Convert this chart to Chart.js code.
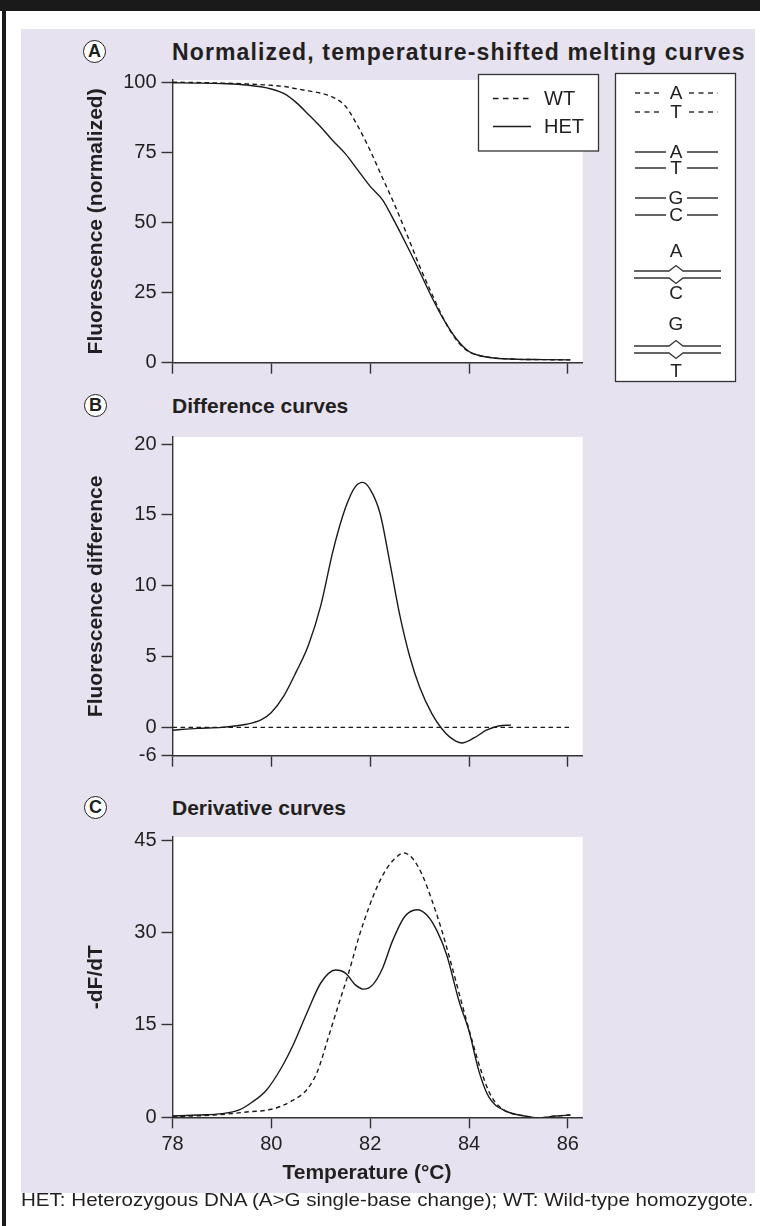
<!DOCTYPE html>
<html>
<head>
<meta charset="utf-8">
<script src="https://cdn.jsdelivr.net/npm/chart.js@4.4.1/dist/chart.umd.min.js"></script>
<style>
html, body { margin: 0; padding: 0; background: #fff; }
body { width: 760px; height: 1226px; position: relative; overflow: hidden;
       font-family: 'Liberation Sans', Arial, Helvetica, sans-serif; color: #231f20; }
#topbar { position: absolute; left: 0; top: 0; width: 760px; height: 11px; background: #1a1a1a; }
#rule { position: absolute; left: 2px; top: 0; width: 4px; height: 1226px; background: #1a1a1a; }
#panel { position: absolute; left: 21px; top: 29px; width: 734px; height: 1164px; background: #e7e2ef; }
.plot { position: absolute; left: 21px; }
.badge { position: absolute; width: 21px; height: 21px; border: 1.6px solid #231f20; border-radius: 50%;
         background: #fff; font-weight: bold; font-size: 18px; line-height: 21px; text-align: center; }
.ptitle { position: absolute; left: 172px; font-weight: bold; font-size: 21px; line-height: 24px; white-space: nowrap; }
#titleA { font-size: 23px; }
#xtitle { position: absolute; left: 0; width: 734px; top: 1160px; text-align: center;
          font-weight: bold; font-size: 21px; line-height: 24px; }
#caption { position: absolute; left: 21px; top: 1189px; font-size: 19px; line-height: 22px;
           white-space: nowrap; transform-origin: 0 50%; }
</style>
</head>
<body>
<div id="topbar"></div>
<div id="rule"></div>
<div id="panel"></div>

<div class="badge" style="left:83px;top:40px">A</div>
<div class="ptitle" id="titleA" style="top:40px">Normalized, temperature-shifted melting curves</div>
<div class="plot" style="top:60px"><canvas id="chartA" width="734" height="330"></canvas></div>

<div class="badge" style="left:84px;top:394px">B</div>
<div class="ptitle" style="top:394px">Difference curves</div>
<div class="plot" style="top:420px"><canvas id="chartB" width="734" height="360"></canvas></div>

<div class="badge" style="left:84px;top:796px">C</div>
<div class="ptitle" style="top:796px">Derivative curves</div>
<div class="plot" style="top:820px"><canvas id="chartC" width="734" height="373"></canvas></div>

<div id="xtitle">Temperature (°C)</div>
<div id="caption">HET: Heterozygous DNA (A&gt;G single-base change); WT: Wild-type homozygote.</div>

<script>
// x axis (temperature, °C)
const xTicks = [78, 80, 82, 84, 86];

// A: normalized melting curves
const meltTemp = [78, 78.5, 79, 79.5, 80, 80.25, 80.5, 80.75, 81, 81.25, 81.5, 81.75, 82, 82.25, 82.5, 82.75, 83, 83.25, 83.5, 83.75, 84, 84.25, 84.5, 85, 85.5, 86.05];
const meltWT   = [100.2, 100.1, 99.9, 99.6, 99.1, 98.7, 97.9, 97.1, 96.3, 94.8, 91.6, 84.5, 75.8, 66, 56.2, 45.5, 34.5, 24.5, 15.2, 8, 3.9, 2.4, 1.7, 1.2, 1.1, 1.0];
const meltHET  = [100, 99.9, 99.7, 99.2, 97.8, 96.2, 93, 88.7, 84.2, 79.2, 74.6, 68.8, 63.0, 58.2, 50.2, 41.6, 32.6, 23.3, 15.0, 8.4, 4, 2.4, 1.7, 1.2, 1.1, 1.0];
const meltTicks = [0, 25, 50, 75, 100];
const meltTickLabels = ['0', '25', '50', '75', '100'];

// B: difference curves (WT is the zero baseline)
const diffTemp = [78, 78.5, 79, 79.5, 79.8, 80, 80.25, 80.5, 80.75, 81, 81.25, 81.5, 81.7, 81.85, 82, 82.2, 82.4, 82.6, 82.8, 83, 83.25, 83.45, 83.6, 83.85, 84.1, 84.35, 84.6, 84.85];
const diffHET  = [-0.2, -0.07, 0, 0.22, 0.55, 1.05, 2.2, 3.9, 5.8, 8.6, 12.5, 15.5, 17.0, 17.3, 16.8, 15.1, 11.6, 7.9, 5.0, 2.85, 0.95, -0.1, -0.65, -1.1, -0.75, -0.2, 0.1, 0.16];
const diffWTTemp = [78, 86.05];
const diffWT   = [0, 0];
const diffTicks = [-2, 0, 5, 10, 15, 20];
const diffTickLabels = ['-6', '0', '5', '10', '15', '20'];

// C: derivative curves
const derivTemp = [78, 78.5, 79, 79.35, 79.6, 79.9, 80.2, 80.45, 80.75, 81, 81.3, 81.5, 81.7, 81.87, 82.05, 82.25, 82.45, 82.7, 82.95, 83.15, 83.35, 83.55, 83.8, 84.0, 84.2, 84.4, 84.75, 85.1, 85.4, 85.75, 86.05];
const derivHET  = [0.2, 0.37, 0.6, 1.2, 2.4, 4.4, 8.0, 11.9, 17.5, 21.8, 23.9, 23.4, 21.5, 20.8, 21.5, 24.2, 28.6, 32.6, 33.7, 32.8, 30.3, 26.3, 18.8, 14.0, 7.5, 3.3, 1.0, 0.25, -0.1, 0.2, 0.37];
const derivWTTemp = [78, 78.85, 79.55, 80.0, 80.4, 80.73, 80.94, 81.15, 81.36, 81.57, 81.78, 81.98, 82.15, 82.32, 82.5, 82.68, 82.86, 83.05, 83.25, 83.45, 83.65, 83.85, 84.05, 84.25, 84.45, 84.7, 85.1, 85.4, 85.75, 86.05];
const derivWT   = [0.1, 0.37, 0.9, 1.3, 2.6, 4.6, 7.6, 12.9, 18.3, 23.6, 29.5, 34.2, 37.6, 40.2, 42.0, 42.9, 42.0, 39.4, 35.2, 30.3, 24.6, 18.6, 12.8, 7.4, 3.4, 1.2, 0.25, -0.1, 0.2, 0.37];
const derivTicks = [0, 15, 30, 45];
const derivTickLabels = ['0', '15', '30', '45'];

const INK = '#231f20';
const FONT = "'Liberation Sans', Arial, Helvetica, sans-serif";
Chart.defaults.font.family = FONT;
Chart.defaults.color = INK;

function pts(xs, ys) {
    return xs.map((x, i) => ({ x: x, y: ys[i] }));
}

function line(label, xs, ys, dashed) {
    return {
        label: label,
        data: pts(xs, ys),
        borderColor: '#1a1a1a',
        borderWidth: 1.4,
        borderDash: dashed ? [4.5, 3.5] : [],
        pointRadius: 0,
        cubicInterpolationMode: 'monotone',
        fill: false
    };
}

// white plotting field
const plotBg = {
    id: 'plotBg',
    beforeDraw(chart) {
        const a = chart.chartArea;
        chart.ctx.save();
        chart.ctx.fillStyle = '#fff';
        chart.ctx.fillRect(a.left, a.top, a.right - a.left, a.bottom - a.top);
        chart.ctx.restore();
    }
};

// the two boxed keys of panel A
const keyBoxes = {
    id: 'keyBoxes',
    afterDraw(chart) {
        const ctx = chart.ctx;
        ctx.save();
        ctx.strokeStyle = '#333';
        ctx.fillStyle = '#fff';
        ctx.lineWidth = 1.3;

        // WT / HET legend
        ctx.fillRect(457.5, 14.5, 120, 76.5);
        ctx.strokeRect(457.5, 14.5, 120, 76.5);
        ctx.strokeStyle = '#1a1a1a';
        ctx.setLineDash([5.5, 4.5]);
        ctx.beginPath(); ctx.moveTo(472, 38.5); ctx.lineTo(511, 38.5); ctx.stroke();
        ctx.setLineDash([]);
        ctx.beginPath(); ctx.moveTo(472, 66.5); ctx.lineTo(510, 66.5); ctx.stroke();
        ctx.fillStyle = INK;
        ctx.font = '20px ' + FONT;
        ctx.textAlign = 'left';
        ctx.textBaseline = 'middle';
        ctx.fillText('WT', 523, 39);
        ctx.fillText('HET', 523, 67);

        // base-pair key
        ctx.fillStyle = '#fff';
        ctx.strokeStyle = '#333';
        ctx.fillRect(594.5, 13.5, 120, 308);
        ctx.strokeRect(594.5, 13.5, 120, 308);

        ctx.fillStyle = INK;
        ctx.font = '19px ' + FONT;
        ctx.textAlign = 'center';
        const cx = 655;
        const seg = (y, dashed) => {
            ctx.setLineDash(dashed ? [5, 4.5] : []);
            ctx.beginPath();
            ctx.moveTo(614, y); ctx.lineTo(dashed ? 642 : 645, y);
            ctx.moveTo(dashed ? 668 : 666, y); ctx.lineTo(697, y);
            ctx.stroke();
            ctx.setLineDash([]);
        };
        const pair = (top, bot, yTop, yBot) => {
            ctx.fillText(top, cx, yTop + 1);
            ctx.fillText(bot, cx, yBot + 1);
        };
        seg(33, true); seg(52, true); pair('A', 'T', 33, 52);
        seg(92, false); seg(108, false); pair('A', 'T', 92, 108);
        seg(138, false); seg(155, false); pair('G', 'C', 138, 155);

        const bubble = (y1, y2) => {
            ctx.beginPath();
            ctx.moveTo(613, y1); ctx.lineTo(648, y1); ctx.lineTo(655, y1 - 5.5); ctx.lineTo(662, y1); ctx.lineTo(700, y1);
            ctx.moveTo(613, y2); ctx.lineTo(648, y2); ctx.lineTo(655, y2 + 5.5); ctx.lineTo(662, y2); ctx.lineTo(700, y2);
            ctx.stroke();
        };
        ctx.fillText('A', cx, 192);
        bubble(211, 218);
        ctx.fillText('C', cx, 234);
        ctx.fillText('G', cx, 265);
        bubble(286, 293);
        ctx.fillText('T', cx, 312);
        ctx.restore();
    }
};

function makeScales(o) {
    return {
        x: {
            type: 'linear',
            min: 78,
            max: 86.3,
            afterBuildTicks: s => { s.ticks = xTicks.map(v => ({ value: v })); },
            afterFit: s => { s.height = o.xHeight; },
            ticks: {
                display: o.xLabels,
                padding: 4,
                autoSkip: false,
                maxRotation: 0,
                font: { size: 20 },
                color: INK
            },
            grid: { drawOnChartArea: false, tickLength: 11, tickColor: '#333', tickWidth: 1.4 },
            border: { color: '#333', width: 1.4 }
        },
        y: {
            type: 'linear',
            min: o.yMin,
            max: o.yMax,
            afterBuildTicks: s => { s.ticks = o.yTicks.map(v => ({ value: v })); },
            afterFit: s => { s.width = 151.5; },
            ticks: {
                padding: 5,
                font: { size: 20 },
                color: INK,
                callback: (v, i) => o.yLabels[i]
            },
            grid: { drawOnChartArea: false, tickLength: 11, tickColor: '#333', tickWidth: 1.4 },
            border: { color: '#333', width: 1.4 },
            title: {
                display: true,
                text: o.yTitle,
                font: { size: 21, weight: 'bold' },
                color: INK,
                padding: { top: 62.4, bottom: 0 }
            }
        }
    };
}

function makeChart(id, datasets, o, extraPlugins) {
    return new Chart(document.getElementById(id), {
        type: 'line',
        data: { datasets: datasets },
        options: {
            responsive: false,
            animation: false,
            devicePixelRatio: 1,
            layout: { padding: { left: 0, right: 172.3, top: o.padTop, bottom: 0 } },
            plugins: { legend: { display: false }, tooltip: { enabled: false } },
            scales: makeScales(o)
        },
        plugins: [plotBg].concat(extraPlugins || [])
    });
}

makeChart('chartA', [
    line('WT', meltTemp, meltWT, true),
    line('HET', meltTemp, meltHET, false)
], {
    padTop: 20, xHeight: 27.3, xLabels: false,
    yMin: 0, yMax: 101, yTicks: meltTicks, yLabels: meltTickLabels,
    yTitle: 'Fluorescence (normalized)'
}, [keyBoxes]);

makeChart('chartB', [
    line('WT', diffWTTemp, diffWT, true),
    line('HET', diffTemp, diffHET, false)
], {
    padTop: 11.7, xHeight: 24.3, xLabels: false,
    yMin: -2, yMax: 20.5, yTicks: diffTicks, yLabels: diffTickLabels,
    yTitle: 'Fluorescence difference'
});

makeChart('chartC', [
    line('WT', derivWTTemp, derivWT, true),
    line('HET', derivTemp, derivHET, false)
], {
    padTop: 13.3, xHeight: 75.7, xLabels: true,
    yMin: 0, yMax: 45.5, yTicks: derivTicks, yLabels: derivTickLabels,
    yTitle: '-dF/dT'
});

// the first panel title runs wider in the original; spread it to the same span
const tA = document.getElementById('titleA');
const gaps = tA.textContent.length - 1;
tA.style.letterSpacing = Math.max(0, (572 - tA.scrollWidth) / gaps) + 'px';

// stretch the caption to the panel width
const cap = document.getElementById('caption');
cap.style.transform = 'scaleX(' + (732 / cap.scrollWidth) + ')';
</script>
</body>
</html>
